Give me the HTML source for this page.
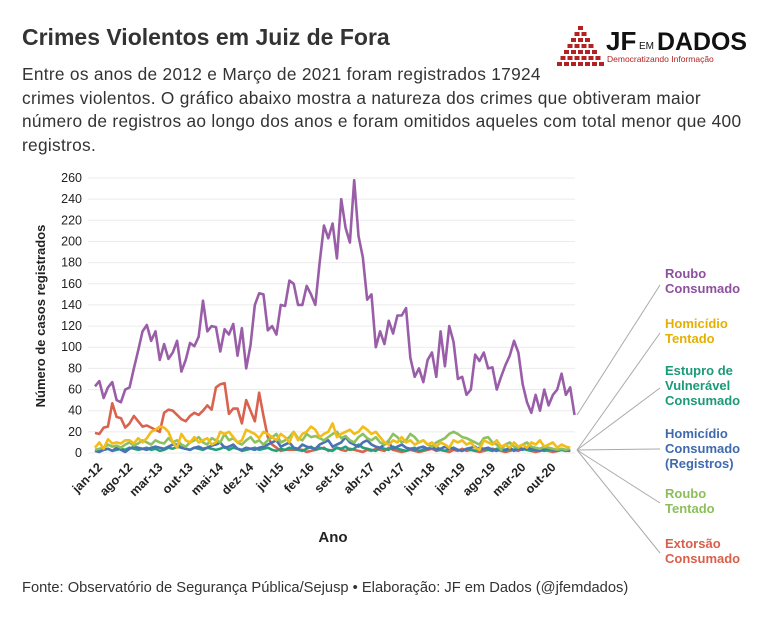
<!DOCTYPE html>
<html><head><meta charset="utf-8"><style>
body{margin:0;background:#fff;font-family:"Liberation Sans",sans-serif;}
#wrap{position:relative;width:764px;height:630px;overflow:hidden;}
.t{position:absolute;white-space:nowrap;color:#333;}
</style></head><body>
<div id="wrap">
<div class="t" style="left:22px;top:24px;font-size:23px;font-weight:bold;">Crimes Violentos em Juiz de Fora</div>
<div class="t" style="left:22px;top:63px;font-size:17.3px;letter-spacing:0.3px;line-height:23.5px;">Entre os anos de 2012 e Março de 2021 foram registrados 17924<br>crimes violentos. O gráfico abaixo mostra a natureza dos crimes que obtiveram maior<br>número de registros ao longo dos anos e foram omitidos aqueles com total menor que 400<br>registros.</div>
<div class="t" style="left:22px;top:580px;font-size:14.7px;">Fonte: Observatório de Segurança Pública/Sejusp • Elaboração: JF em Dados (@jfemdados)</div>
<svg id="logo" width="210" height="50" style="position:absolute;left:550px;top:20px">
<g fill="#b22222" id="tri"></g>
<text x="56" y="30" font-family="Liberation Sans" font-weight="bold" font-size="26" fill="#111">JF</text>
<text x="89" y="29" font-family="Liberation Sans" font-size="10" fill="#111">EM</text>
<text x="107" y="30" font-family="Liberation Sans" font-weight="bold" font-size="25" fill="#111" textLength="90" lengthAdjust="spacingAndGlyphs">DADOS</text>
<text x="57" y="42" font-family="Liberation Sans" font-size="8.5" fill="#b22222">Democratizando Informação</text>
</svg>
<svg id="chart" width="764" height="630" style="position:absolute;left:0;top:0"></svg>
</div>
<script>
const yTicks=[0,20,40,60,80,100,120,140,160,180,200,220,240,260];
const xLabels=["jan-12","ago-12","mar-13","out-13","mai-14","dez-14","jul-15","fev-16","set-16","abr-17","nov-17","jun-18","jan-19","ago-19","mar-20","out-20"];
const rouboConsumado=[63,68,52,62,67,50,48,60,62,80,97,115,121,106,115,88,103,89,95,106,77,88,104,101,110,144,115,120,119,96,117,112,122,92,118,80,102,140,151,150,116,120,112,140,139,163,160,140,140,158,150,140,180,215,203,217,184,240,213,199,258,205,185,145,150,100,115,103,125,113,130,130,137,90,72,80,67,88,95,72,115,82,120,105,70,72,55,60,93,87,95,80,81,60,72,83,92,106,95,65,48,38,55,40,60,45,55,60,75,55,62,36];
const homicidioTentado=[5,10,4,13,9,10,9,12,12,9,14,10,14,20,22,25,24,20,10,5,18,12,10,15,10,12,14,8,10,20,18,20,15,10,12,22,20,18,14,20,18,15,12,18,15,10,20,12,18,20,25,22,15,18,20,28,15,18,20,22,18,20,25,22,18,20,15,10,8,12,10,15,10,12,8,10,12,8,10,6,10,8,5,12,10,12,8,10,5,3,12,10,8,12,6,8,5,10,6,8,5,10,8,12,6,8,10,5,8,6,5];
const estupro=[3,2,3,4,2,3,4,3,5,4,3,4,5,3,4,2,3,5,4,6,5,4,3,5,4,3,5,4,3,4,6,3,5,4,2,3,4,5,3,4,5,3,2,4,3,5,4,3,2,4,6,3,5,4,3,2,5,4,6,3,4,8,5,4,3,2,5,4,3,6,4,3,2,4,5,2,3,4,5,6,3,2,4,5,3,2,4,3,2,5,4,3,2,4,3,2,4,3,5,4,3,2,4,3,2,3,4,2,3,2,3];
const homicidioConsumado=[2,1,3,4,2,5,3,1,4,6,5,4,3,5,6,5,4,6,8,8,5,4,3,5,6,4,5,7,8,10,5,6,8,4,3,5,4,3,5,6,8,10,12,6,8,10,5,4,8,6,5,4,8,10,12,6,8,10,15,10,8,6,10,12,8,6,5,8,10,4,6,8,5,4,3,5,6,4,5,3,4,6,5,4,3,2,4,5,6,3,4,5,3,2,4,3,5,2,4,3,5,4,3,2,4,5,3,2,4,3,2];
const rouboTentado=[3,4,5,8,6,7,5,8,10,7,9,12,10,8,12,10,9,14,10,12,8,6,10,12,15,10,8,14,12,10,18,12,14,10,8,12,15,10,12,8,12,15,18,10,12,15,20,14,12,18,15,16,14,12,15,18,20,14,16,12,10,15,18,14,12,15,10,8,12,18,15,10,12,18,15,10,12,8,6,10,12,14,18,20,18,15,14,12,10,8,14,15,10,8,3,8,10,6,5,8,10,6,5,4,6,5,4,3,4,3,4];
const extorsao=[19,18,24,25,47,34,33,24,28,35,30,25,26,24,22,20,38,41,40,36,32,30,35,38,36,40,45,41,62,65,66,37,42,42,28,50,40,30,57,35,15,8,5,2,3,3,3,3,3,1,2,3,4,5,2,3,5,3,2,4,3,2,1,3,2,4,3,2,5,3,2,1,2,3,2,1,2,3,4,2,3,2,1,3,2,4,2,3,2,1,2,3,4,3,2,1,2,3,2,4,3,2,1,2,3,2,1,2,3,2,2];
const NS="http://www.w3.org/2000/svg";
const svg=document.getElementById('chart');
const X0=95,STEP=4.32,Y0=453,YS=275/260;
const x=i=>X0+i*STEP, y=v=>Y0-v*YS;
function mk(t,a){const e=document.createElementNS(NS,t);for(const k in a)e.setAttribute(k,a[k]);svg.appendChild(e);return e;}
yTicks.forEach(v=>{
 const g=mk('line',{x1:88,x2:575,y1:y(v),y2:y(v),stroke:'#ebebeb','stroke-width':1});
 
 
 const t=mk('text',{x:82,y:y(v)+4,'text-anchor':'end','font-size':12.5,fill:'#222','font-family':'Liberation Sans'});
 t.textContent=v;
 
 
});
xLabels.forEach((l,k)=>{
 const xx=x(k*7);
 const t=mk('text',{x:xx+8,y:468,'text-anchor':'end','font-size':12.5,'font-weight':'bold',fill:'#222','font-family':'Liberation Sans',transform:`rotate(-45 ${xx+8} 468)`});
 t.textContent=l;
 
 
});
const series=[[extorsao,'#d9634f'],[estupro,'#22a07c'],[homicidioConsumado,'#4a72b5'],[rouboTentado,'#8dc160'],[homicidioTentado,'#f2bd1a'],[rouboConsumado,'#9a5ea8']];
const names=['extorsao-line','estupro-line','homicidio-consumado-line','roubo-tentado-line','homicidio-tentado-line','roubo-consumado-line'];
series.forEach(([d,c],k)=>{
 const p=mk('polyline',{points:d.map((v,i)=>x(i)+','+y(v)).join(' '),fill:'none',stroke:c,'stroke-width':2.6,'stroke-linejoin':'round'});
 
 
});
const ax=mk('text',{x:333,y:542,'text-anchor':'middle','font-size':15,'font-weight':'bold',fill:'#222','font-family':'Liberation Sans'});
ax.textContent='Ano';


const ay=mk('text',{x:45,y:316,'text-anchor':'middle','font-size':13,'font-weight':'bold',fill:'#222','font-family':'Liberation Sans',transform:'rotate(-90 45 316)'});
ay.textContent='Número de casos registrados';


const leg=[[['Roubo','Consumado'],'#8e4f9e',278,415,285],[['Homicídio','Tentado'],'#e6b000',328,450,333],[['Estupro de','Vulnerável','Consumado'],'#1a9a76',375,450,388],[['Homicídio','Consumado','(Registros)'],'#3f6aae',438,450,449],[['Roubo','Tentado'],'#8cbf5a',498,450,503],[['Extorsão','Consumado'],'#d95f4a',548,450,553]];
leg.forEach(([lines,c,ty,sy,ey])=>{
 const l=mk('line',{x1:577,y1:sy,x2:660,y2:ey,stroke:'#aaa','stroke-width':1});
 
 
 const t=mk('text',{x:665,y:ty,'font-size':13,'font-weight':'bold',fill:c,'font-family':'Liberation Sans'});
 
 
 lines.forEach((s,i)=>{const ts=document.createElementNS(NS,'tspan');ts.setAttribute('x',665);ts.setAttribute('dy',i?15:0);ts.textContent=s;t.appendChild(ts);});
});
const tri=document.getElementById('tri');
for(let r=0;r<7;r++){for(let c=0;c<=r;c++){const e=document.createElementNS(NS,'rect');e.setAttribute('x',28-r*3.5+c*7);e.setAttribute('y',6+r*6);e.setAttribute('width',5);e.setAttribute('height',4);tri.appendChild(e);}}
</script>
</body></html>
